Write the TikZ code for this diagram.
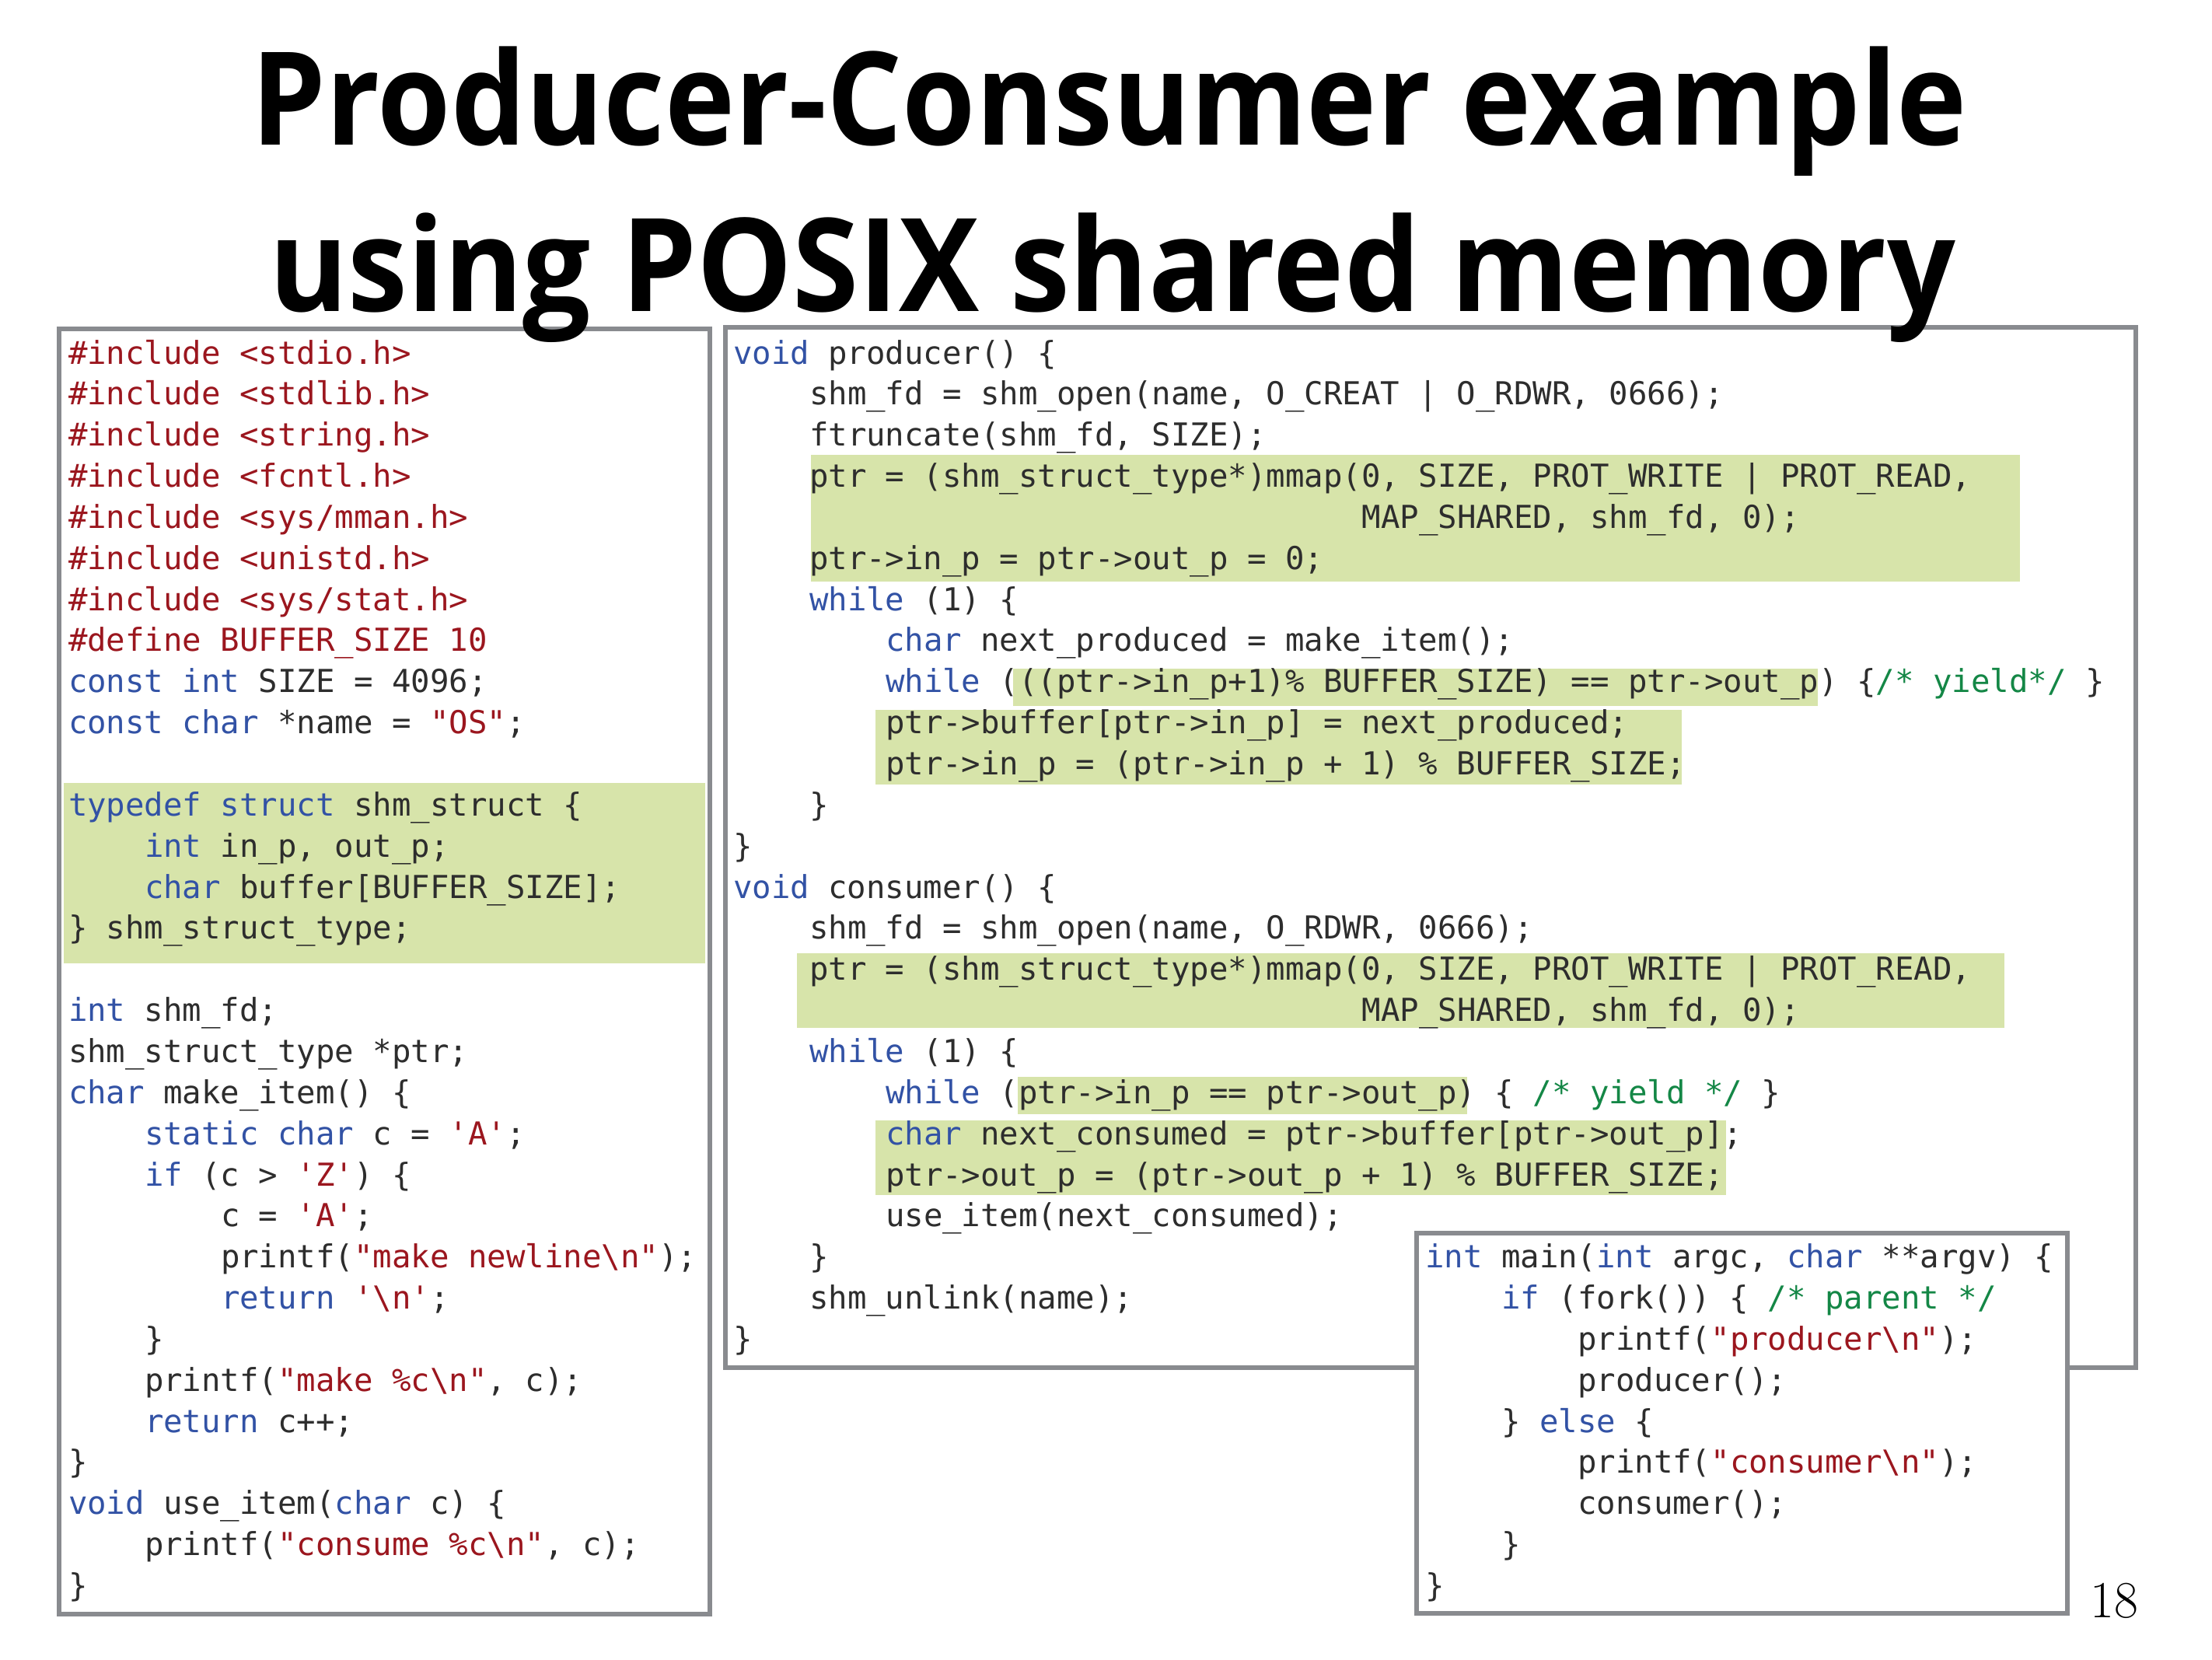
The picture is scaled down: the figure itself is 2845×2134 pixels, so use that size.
\documentclass[tikz,border=0pt]{standalone}
\usepackage{fontspec}
\usepackage{graphicx}
\setmonofont{DejaVu Sans Mono}
\newfontfamily\titlefont{Open Sans Bold}
\definecolor{codetext}{RGB}{45,45,45}
\definecolor{kwblue}{RGB}{50,82,165}
\definecolor{strred}{RGB}{155,22,30}
\definecolor{cmgreen}{RGB}{20,135,70}
\definecolor{hlgreen}{RGB}{215,228,170}
\definecolor{boxgray}{RGB}{137,139,143}
\newcommand{\kw}[1]{\textcolor{kwblue}{#1}}
\newcommand{\strg}[1]{\textcolor{strred}{#1}}
\newcommand{\cmt}[1]{\textcolor{cmgreen}{#1}}
\newcommand{\bs}{\textbackslash}
\newcommand{\cl}[5]{\node[codeline] (#1) at ({#2+#3*24.5},{468+(#4-1)*52.85}) {#5};}
\tikzset{
  codeline/.style={anchor=base west, inner sep=0pt, outer sep=0pt, text=codetext,
    font=\ttfamily\fontsize{40.69pt}{52.85pt}\selectfont},
  hl/.style={fill=hlgreen, draw=none},
  codebox/.style={draw=boxgray, line width=6pt},
}
\begin{document}
\begin{tikzpicture}[x=1pt,y=-1pt]
\useasboundingbox (0,0) rectangle (2845,2134);
\fill[white] (0,0) rectangle (2845,2134);
% boxes
\draw[codebox] (933,421) rectangle (2747,1759);
\draw[codebox] (76,423) rectangle (913,2076);
% highlights
\fill[hl] (82,1007) rectangle (907,1239);
\fill[hl] (1043,585) rectangle (2598,748);
\fill[hl] (1303,860) rectangle (2338,908);
\fill[hl] (1126,913) rectangle (2163,1009);
\fill[hl] (1025,1226) rectangle (2578,1322);
\fill[hl] (1309,1385) rectangle (1887,1433);
\fill[hl] (1126,1441) rectangle (2220,1537);
% left box code
\cl{L1}{88}{0}{1}{\strg{\#include <stdio.h>}}
\cl{L2}{88}{0}{2}{\strg{\#include <stdlib.h>}}
\cl{L3}{88}{0}{3}{\strg{\#include <string.h>}}
\cl{L4}{88}{0}{4}{\strg{\#include <fcntl.h>}}
\cl{L5}{88}{0}{5}{\strg{\#include <sys/mman.h>}}
\cl{L6}{88}{0}{6}{\strg{\#include <unistd.h>}}
\cl{L7}{88}{0}{7}{\strg{\#include <sys/stat.h>}}
\cl{L8}{88}{0}{8}{\strg{\#define BUFFER\_SIZE 10}}
\cl{L9}{88}{0}{9}{\kw{const int} SIZE = 4096;}
\cl{L10}{88}{0}{10}{\kw{const char} *name = \strg{"OS"};}
\cl{L12}{88}{0}{12}{\kw{typedef struct} shm\_struct \{}
\cl{L13}{88}{4}{13}{\kw{int} in\_p, out\_p;}
\cl{L14}{88}{4}{14}{\kw{char} buffer[BUFFER\_SIZE];}
\cl{L15}{88}{0}{15}{\} shm\_struct\_type;}
\cl{L17}{88}{0}{17}{\kw{int} shm\_fd;}
\cl{L18}{88}{0}{18}{shm\_struct\_type *ptr;}
\cl{L19}{88}{0}{19}{\kw{char} make\_item() \{}
\cl{L20}{88}{4}{20}{\kw{static char} c = \strg{'A'};}
\cl{L21}{88}{4}{21}{\kw{if} (c > \strg{'Z'}) \{}
\cl{L22}{88}{8}{22}{c = \strg{'A'};}
\cl{L23}{88}{8}{23}{printf(\strg{"make newline\bs n"});}
\cl{L24}{88}{8}{24}{\kw{return} \strg{'\bs n'};}
\cl{L25}{88}{4}{25}{\}}
\cl{L26}{88}{4}{26}{printf(\strg{"make \%c\bs n"}, c);}
\cl{L27}{88}{4}{27}{\kw{return} c++;}
\cl{L28}{88}{0}{28}{\}}
\cl{L29}{88}{0}{29}{\kw{void} use\_item(\kw{char} c) \{}
\cl{L30}{88}{4}{30}{printf(\strg{"consume \%c\bs n"}, c);}
\cl{L31}{88}{0}{31}{\}}
% top box code
\cl{P1}{943}{0}{1}{\kw{void} producer() \{}
\cl{P2}{943}{4}{2}{shm\_fd = shm\_open(name, O\_CREAT | O\_RDWR, 0666);}
\cl{P3}{943}{4}{3}{ftruncate(shm\_fd, SIZE);}
\cl{P4}{943}{4}{4}{ptr = (shm\_struct\_type*)mmap(0, SIZE, PROT\_WRITE | PROT\_READ,}
\cl{P5}{943}{33}{5}{MAP\_SHARED, shm\_fd, 0);}
\cl{P6}{943}{4}{6}{ptr->in\_p = ptr->out\_p = 0;}
\cl{P7}{943}{4}{7}{\kw{while} (1) \{}
\cl{P8}{943}{8}{8}{\kw{char} next\_produced = make\_item();}
\cl{P9}{943}{8}{9}{\kw{while} (((ptr->in\_p+1)\% BUFFER\_SIZE) == ptr->out\_p) \{\cmt{/* yield*/} \}}
\cl{P10}{943}{8}{10}{ptr->buffer[ptr->in\_p] = next\_produced;}
\cl{P11}{943}{8}{11}{ptr->in\_p = (ptr->in\_p + 1) \% BUFFER\_SIZE;}
\cl{P12}{943}{4}{12}{\}}
\cl{P13}{943}{0}{13}{\}}
\cl{P14}{943}{0}{14}{\kw{void} consumer() \{}
\cl{P15}{943}{4}{15}{shm\_fd = shm\_open(name, O\_RDWR, 0666);}
\cl{P16}{943}{4}{16}{ptr = (shm\_struct\_type*)mmap(0, SIZE, PROT\_WRITE | PROT\_READ,}
\cl{P17}{943}{33}{17}{MAP\_SHARED, shm\_fd, 0);}
\cl{P18}{943}{4}{18}{\kw{while} (1) \{}
\cl{P19}{943}{8}{19}{\kw{while} (ptr->in\_p == ptr->out\_p) \{ \cmt{/* yield */} \}}
\cl{P20}{943}{8}{20}{\kw{char} next\_consumed = ptr->buffer[ptr->out\_p];}
\cl{P21}{943}{8}{21}{ptr->out\_p = (ptr->out\_p + 1) \% BUFFER\_SIZE;}
\cl{P22}{943}{8}{22}{use\_item(next\_consumed);}
\cl{P23}{943}{4}{23}{\}}
\cl{P24}{943}{4}{24}{shm\_unlink(name);}
\cl{P25}{943}{0}{25}{\}}
% main box
\draw[codebox, fill=white] (1822,1586) rectangle (2659,2075);
\cl{M1}{1833}{0}{23}{\kw{int} main(\kw{int} argc, \kw{char} **argv) \{}
\cl{M2}{1833}{4}{24}{\kw{if} (fork()) \{ \cmt{/* parent */}}
\cl{M3}{1833}{8}{25}{printf(\strg{"producer\bs n"});}
\cl{M4}{1833}{8}{26}{producer();}
\cl{M5}{1833}{4}{27}{\} \kw{else} \{}
\cl{M6}{1833}{8}{28}{printf(\strg{"consumer\bs n"});}
\cl{M7}{1833}{8}{29}{consumer();}
\cl{M8}{1833}{4}{30}{\}}
\cl{M9}{1833}{0}{31}{\}}
% title
\node[anchor=base, inner sep=0pt] (title1) at (1427,186.7)
  {\resizebox{2206pt}{\height}{\titlefont\fontsize{166.7pt}{200pt}\selectfont Producer-Consumer example}};
\node[anchor=base, inner sep=0pt] (title2) at (1430.5,400)
  {\resizebox{2169pt}{\height}{\titlefont\fontsize{166.7pt}{200pt}\selectfont using POSIX shared memory}};
% page number
\node[anchor=base east, inner sep=0pt] (pagenum) at (2750,2080) {\fontsize{67pt}{80pt}\selectfont 18};
\end{tikzpicture}
\end{document}
